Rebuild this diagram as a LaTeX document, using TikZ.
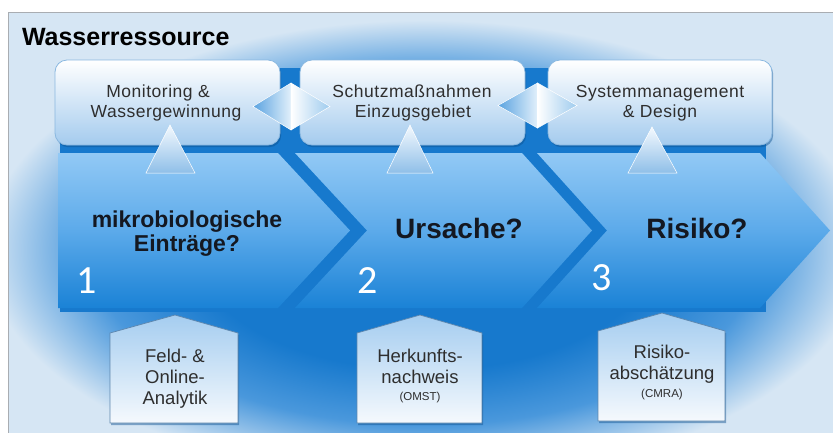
\documentclass[tikz,border=0pt]{standalone}
\usepackage{fontspec}
\setmainfont{Liberation Sans}
\newfontfamily\numfont{Carlito}
\usetikzlibrary{shadows}

\definecolor{frameline}{HTML}{A9ADB2}
\definecolor{paleblue}{HTML}{D6E6F4}
\definecolor{deepblue}{HTML}{1779CD}
\definecolor{midblue}{HTML}{4A98DC}
\definecolor{chevtop}{HTML}{92C9F5}
\definecolor{chevmid}{HTML}{5CAAEA}
\definecolor{chevbot}{HTML}{1A82D6}
\definecolor{boxtop}{HTML}{FFFFFF}
\definecolor{boxbot}{HTML}{A4CBEE}
\definecolor{boxline}{HTML}{8AB8E0}
\definecolor{txt}{HTML}{2E2E2E}
\definecolor{darktxt}{HTML}{141821}
\definecolor{housetop}{HTML}{A5CDF0}
\definecolor{housebot}{HTML}{F5F9FD}
\definecolor{houseline}{HTML}{5D86AD}
\definecolor{shadowblue}{HTML}{0B4F8E}
\definecolor{tritop}{HTML}{F4F9FE}
\definecolor{tribot}{HTML}{8FBFE8}
\definecolor{dialeft}{HTML}{5AA3E0}
\definecolor{diamid}{HTML}{E2F0FB}
\definecolor{diaright}{HTML}{9ECBEE}

% soft blue glow behind the process chain
\pgfdeclareradialshading{glow}{\pgfpoint{0bp}{0bp}}{color(0bp)=(deepblue); color(13bp)=(deepblue); color(19bp)=(midblue); color(25bp)=(paleblue); color(50bp)=(paleblue)}

\begin{document}
\begin{tikzpicture}[x=1pt,y=-1pt,
  every node/.style={inner sep=0pt, outer sep=0pt},
  softshadow/.style={drop shadow={shadow xshift=1.2pt, shadow yshift=-2.2pt, opacity=0.45, fill=shadowblue}},
  chev/.style={top color=chevtop, bottom color=chevbot, middle color=chevmid},
  topbox/.style={rounded corners=12pt, top color=boxtop, bottom color=boxbot, draw=boxline, line width=0.8pt, softshadow},
  uptri/.style={top color=tritop, bottom color=tribot, draw=white, line width=0.5pt},
  dialeftpart/.style={left color=dialeft, right color=diamid, draw=white, line width=0.5pt},
  diarightpart/.style={left color=white, right color=diaright, draw=white, line width=0.5pt},
  house/.style={top color=housetop, bottom color=housebot, draw=houseline, line width=0.7pt, softshadow},
  boxtxt/.style={anchor=base, text=txt, font=\fontsize{17.5}{20}\selectfont\addfontfeature{LetterSpace=3}},
  housetxt/.style={anchor=base, text=txt, font=\fontsize{18.5}{21}\selectfont},
  smalltxt/.style={anchor=base, text=txt, font=\fontsize{11.5}{13}\selectfont},
  chevtxt/.style={anchor=base, text=darktxt, font=\fontsize{23}{26}\selectfont\bfseries},
  bigtxt/.style={anchor=base, text=darktxt, font=\fontsize{28}{32}\selectfont\bfseries},
  num/.style={text=white, font=\fontsize{40}{40}\numfont}
]
\useasboundingbox (0,0) rectangle (833,432);
\fill[white] (0,0) rectangle (833,432);

% panel background
\begin{scope}
  \clip (8,12) rectangle (840,440);
  \fill[paleblue] (8,12) rectangle (840,440);
  \shade[shading=glow] (425,250) ellipse [x radius=440, y radius=230];
  \fill[deepblue] (60,140) rectangle (766,312);
  \fill[deepblue] (276,68) rectangle (304,145);
  \fill[deepblue] (521,68) rectangle (552,145);
\end{scope}
\draw[frameline, line width=1pt] (8,12) rectangle (845,445);

\node[anchor=base west, text=black, font=\fontsize{25}{30}\selectfont\bfseries] (title) at (22,45) {Wasserressource};

% process chevrons
\path[chev] (58,153) -- (278,153) -- (350,230.5) -- (278,308) -- (58,308) -- cycle;
\path[chev] (295,153) -- (522,153) -- (592,230.5) -- (522,308) -- (295,308) -- (367,230.5) -- cycle;
\path[chev] (537,153) -- (760,153) -- (830,230.5) -- (760,308) -- (537,308) -- (607,230.5) -- cycle;

% top boxes
\path[topbox] (55,60) rectangle (280,145);
\path[topbox] (300,60) rectangle (525,145);
\path[topbox] (548,60) rectangle (772,145);

% linking diamonds between the top boxes
\path[dialeftpart] (253,106.5) -- (291,83) -- (291,130) -- cycle;
\path[diarightpart] (291,83) -- (330,106.5) -- (291,130) -- cycle;
\path[dialeftpart] (498,105.5) -- (537.5,83) -- (537.5,128) -- cycle;
\path[diarightpart] (537.5,83) -- (577,105.5) -- (537.5,128) -- cycle;

% small triangles pointing from the chevrons up to the boxes
\path[uptri] (170,125) -- (195,173) -- (146,173) -- cycle;
\path[uptri] (410,125) -- (433,173) -- (387,173) -- cycle;
\path[uptri] (652,127) -- (677,173) -- (628,173) -- cycle;

% bottom method boxes
\path[house] (110,333) -- (175,315) -- (238,333) -- (238,423) -- (110,423) -- cycle;
\path[house] (357,333) -- (420,315) -- (482,333) -- (482,423) -- (357,423) -- cycle;
\path[house] (598,331) -- (662,313) -- (725,331) -- (725,421) -- (598,421) -- cycle;

% texts of the top boxes
\node[boxtxt] (b1a) at (158,97) {Monitoring \&};
\node[boxtxt] (b1b) at (166,117) {Wassergewinnung};
\node[boxtxt] (b2a) at (412,97) {Schutzmaßnahmen};
\node[boxtxt] (b2b) at (413,117) {Einzugsgebiet};
\node[boxtxt] (b3a) at (660,97) {Systemmanagement};
\node[boxtxt] (b3b) at (660,117) {\& Design};

% texts of the chevrons
\node[chevtxt] (c1a) at (187,227) {mikrobiologische};
\node[chevtxt] (c1b) at (187,251) {Einträge?};
\node[bigtxt] (c2) at (459,238) {Ursache?};
\node[bigtxt] (c3) at (697,238) {Risiko?};

\node[num] (n1) at (87,281) {1};
\node[num] (n2) at (368,281) {2};
\node[num] (n3) at (602,278) {3};

% texts of the bottom boxes
\node[housetxt] (h1a) at (175,362) {Feld- \&};
\node[housetxt] (h1b) at (175,383) {Online-};
\node[housetxt] (h1c) at (175,404) {Analytik};
\node[housetxt] (h2a) at (420,362) {Herkunfts-};
\node[housetxt] (h2b) at (420,383) {nachweis};
\node[smalltxt] (h2c) at (420,400) {(OMST)};
\node[housetxt] (h3a) at (662,358) {Risiko-};
\node[housetxt] (h3b) at (662,379) {abschätzung};
\node[smalltxt] (h3c) at (662,397) {(CMRA)};
\end{tikzpicture}
\end{document}
